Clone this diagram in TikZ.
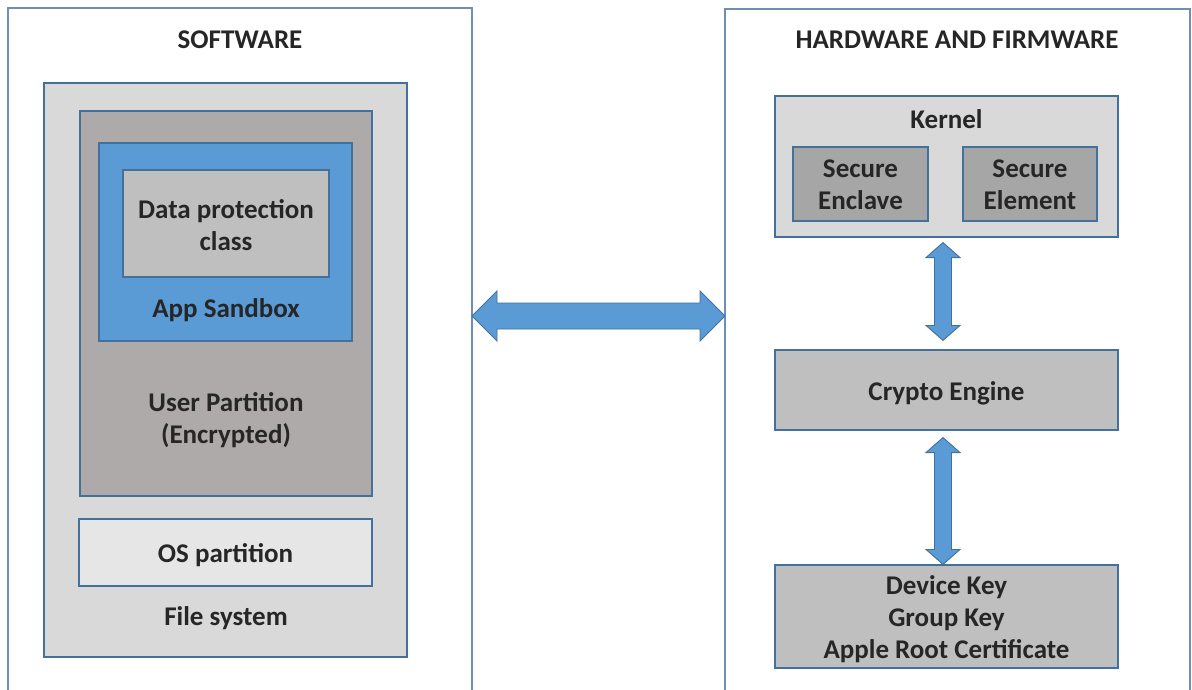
\documentclass[tikz,border=0pt]{standalone}
\usepackage{fontspec}
\setmainfont{Carlito}
\usepackage{tikz}
\usetikzlibrary{calc}
\definecolor{edgeblue}{RGB}{65,113,156}
\definecolor{panelblue}{RGB}{109,143,181}
\definecolor{sandblue}{RGB}{91,155,213}
\definecolor{txtgray}{RGB}{38,38,38}
\definecolor{lightbox}{RGB}{217,217,217}
\definecolor{userbox}{RGB}{174,170,170}
\definecolor{midbox}{RGB}{191,191,191}
\definecolor{darkbox}{RGB}{166,166,166}
\definecolor{osbox}{RGB}{231,230,230}
\tikzset{
  box/.style={draw=edgeblue, line width=1.1pt, inner sep=0pt, anchor=center},
  txt/.style={text=txtgray, font=\fontsize{27}{32}\selectfont\bfseries, align=center, inner sep=0pt},
  blockarr/.style={draw=edgeblue, line width=0.9pt, fill=sandblue, line join=miter},
}
% horizontal double block arrow between two points
\newcommand{\harrow}[2]{%
  \draw[blockarr] let \p1=(#1), \p2=(#2) in
    (\x1,\y1) -- (\x1+25pt,\y1+25pt) -- (\x1+25pt,\y1+13pt) -- (\x2-25pt,\y1+13pt)
    -- (\x2-25pt,\y1+25pt) -- (\x2,\y1) -- (\x2-25pt,\y1-25pt) -- (\x2-25pt,\y1-13pt)
    -- (\x1+25pt,\y1-13pt) -- (\x1+25pt,\y1-25pt) -- cycle;}
% vertical double block arrow between two points
\newcommand{\varrow}[2]{%
  \draw[blockarr] let \p1=(#1), \p2=(#2) in
    (\x1,\y1) -- (\x1+17pt,\y1-15pt) -- (\x1+8.5pt,\y1-15pt) -- (\x1+8.5pt,\y2+15pt)
    -- (\x1+17pt,\y2+15pt) -- (\x1,\y2) -- (\x1-17pt,\y2+15pt) -- (\x1-8.5pt,\y2+15pt)
    -- (\x1-8.5pt,\y1-15pt) -- (\x1-17pt,\y1-15pt) -- cycle;}

\begin{document}
\begin{tikzpicture}[x=1pt,y=-1pt]
  \clip (0,0) rectangle (1192,690);
  \fill[white] (0,0) rectangle (1192,690);

  % the two panels, open at the bottom
  \draw[panelblue, line width=1.1pt] (8,700) -- (8,8) -- (472,8) -- (472,700);
  \draw[panelblue, line width=1.1pt] (725,700) -- (725,9) -- (1190,9) -- (1190,700);
  \coordinate (swedge) at (472,316);
  \coordinate (hwedge) at (725,316);
  \node[txt] (swtitle) at (240,40) {SOFTWARE};
  \node[txt] (hwtitle) at (957,40) {HARDWARE AND FIRMWARE};

  % software side
  \node[box, fill=lightbox, minimum width=363, minimum height=574] (fs) at (225.5,370) {};
  \node[box, fill=userbox, minimum width=292, minimum height=385] (userp) at (226,303.5) {};
  \node[box, fill=sandblue, minimum width=253, minimum height=198] (sandbox) at (225.5,242) {};
  \node[box, fill=midbox, minimum width=206, minimum height=107] (dpc) at (226,223.5) {};
  \node[txt] (dpctext) at ($(dpc)+(0,1.5)$) {Data protection\\class};
  \node[txt] (sandtext) at (226,310) {App Sandbox};
  \node[txt] (usertext) at (226,420.5) {User Partition\\(Encrypted)};
  \node[box, fill=osbox, minimum width=293, minimum height=67] (osp) at (225.5,552.5) {};
  \node[txt] (ostext) at ($(osp)+(0,2.5)$) {OS partition};
  \node[txt] (fstext) at (226,618) {File system};

  % hardware side
  \node[box, fill=lightbox, minimum width=343, minimum height=141] (kernel) at (946.5,166.5) {};
  \node[txt] (kerneltext) at (946.5,119) {Kernel};
  \node[box, fill=darkbox, minimum width=135, minimum height=74] (enclave) at (860.5,184) {};
  \node[txt] at ($(enclave)+(0,1)$) {Secure\\Enclave};
  \node[box, fill=darkbox, minimum width=134, minimum height=74] (element) at (1030,184) {};
  \node[txt] at ($(element)+(0,1)$) {Secure\\Element};
  \node[box, fill=midbox, minimum width=343, minimum height=80] (crypto) at (946.5,390) {};
  \node[txt] at ($(crypto)+(0,3)$) {Crypto Engine};
  \node[box, fill=midbox, minimum width=343, minimum height=103] (keys) at (946.5,616.5) {};
  \node[txt] at ($(keys)+(0,2.5)$) {Device Key\\Group Key\\Apple Root Certificate};

  % connectors
  \harrow{swedge}{hwedge}
  \varrow{$(kernel.south)+(-3.5,5)$}{$(crypto.north)+(-3.5,-9)$}
  \varrow{$(crypto.south)+(-3.5,7)$}{$(keys.north)+(-3.5,0)$}
\end{tikzpicture}
\end{document}
